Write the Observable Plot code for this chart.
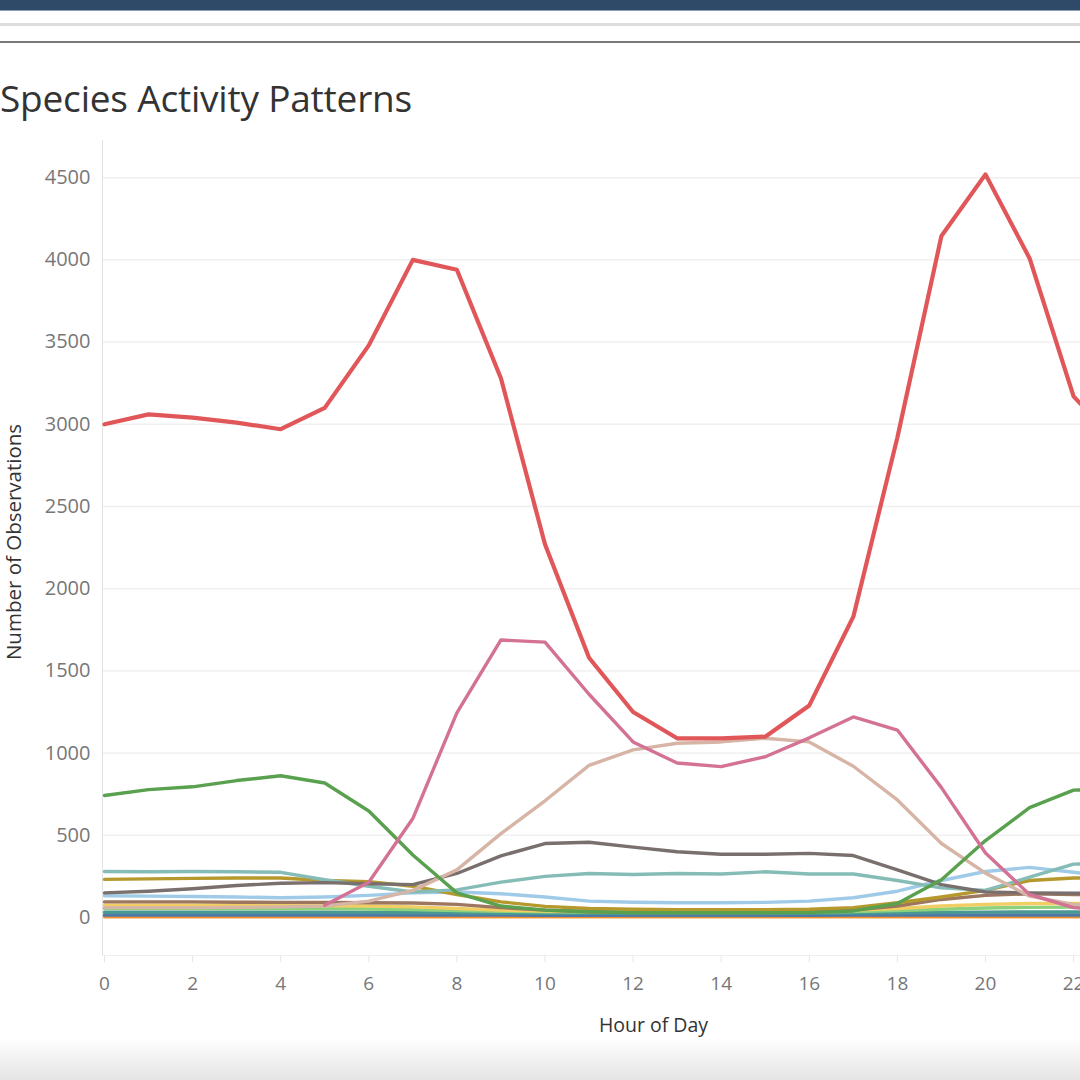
<!DOCTYPE html>
<html>
<head>
<meta charset="utf-8">
<script src="https://cdn.jsdelivr.net/npm/d3@7"></script>
<script src="https://cdn.jsdelivr.net/npm/@observablehq/plot@0.6"></script>
<style>
  html, body { margin: 0; padding: 0; background: #fff; overflow: hidden; }
  #page { position: relative; width: 1080px; height: 1080px; overflow: hidden; background: #fff; }
  .abs { position: absolute; left: 0; }
  #title { position: absolute; left: 0px; top: 79px; font-family: "Open Sans", sans-serif; font-size: 37px; line-height: 37px; color: #333; white-space: nowrap; letter-spacing: -0.2px; }
  #chart { position: absolute; left: 0; top: 130px; }
  #chart svg { max-width: none; }
</style>
</head>
<body>
<div id="page">
  <div class="abs" style="top:0;width:1080px;height:10px;background:#2e4a68"></div>
  <div class="abs" style="top:10px;width:1080px;height:1px;background:#8da0b3"></div>
  <div class="abs" style="top:23px;width:1080px;height:3px;background:#dddddd"></div>
  <div class="abs" style="top:41px;width:1080px;height:2px;background:#7a7a7a"></div>
  <div id="title">Species Activity Patterns</div>
  <div id="chart"></div>
  <div class="abs" style="top:1038px;width:1080px;height:42px;background:linear-gradient(rgba(230,230,230,0), #e4e4e4);pointer-events:none"></div>
</div>
<script>
// Hours of day
const hours = d3.range(0, 24);
const yTicks = [0, 500, 1000, 1500, 2000, 2500, 3000, 3500, 4000, 4500];
const xTicks = [0, 2, 4, 6, 8, 10, 12, 14, 16, 18, 20, 22];

// Series (number of observations per hour); null = no observations recorded
const peachSeries   = [3, 3, 3, 3, 3, 3, 3, 3, 3, 3, 3, 3, 3, 3, 3, 3, 3, 3, 3, 3, 3, 3, 3, 3];
const orangeSeries  = [8, 8, 8, 8, 8, 8, 8, 8, 8, 8, 8, 8, 8, 8, 8, 8, 8, 8, 8, 8, 8, 8, 8, 8];
const blueSeries    = [15, 15, 15, 15, 15, 15, 15, 15, 15, 15, 14, 14, 14, 14, 14, 14, 14, 15, 15, 15, 15, 15, 15, 15];
const steelSeries   = [32, 32, 32, 32, 32, 32, 31, 30, 28, 26, 25, 25, 24, 24, 24, 24, 25, 27, 29, 31, 33, 34, 34, 34];
const lgreenSeries  = [55, 55, 55, 55, 55, 55, 52, 48, 42, 38, 35, 33, 32, 32, 32, 32, 33, 36, 42, 50, 58, 62, 63, 63];
const yellowSeries  = [75, 75, 75, 75, 75, 72, 70, 65, 55, 45, 40, 38, 35, 35, 35, 35, 38, 45, 55, 70, 80, 85, 85, 85];
const brownSeries   = [95, 95, 95, 93, 92, 92, 90, 88, 80, 60, 45, 35, 30, 30, 30, 30, 35, 45, 70, 110, 135, 145, 140, 135];
const lblueSeries   = [132, 130, 128, 125, 120, 125, 135, 150, 155, 145, 125, 100, 93, 90, 90, 92, 100, 120, 160, 225, 280, 305, 275, 245];
const goldSeries    = [232, 235, 238, 240, 240, 225, 218, 190, 140, 95, 68, 55, 50, 48, 48, 48, 50, 60, 90, 125, 165, 225, 240, 245];
const tealSeries    = [280, 278, 280, 278, 275, 230, 190, 155, 168, 215, 250, 268, 262, 268, 265, 278, 265, 265, 225, 180, 165, 245, 325, 330];
const graySeries    = [150, 160, 175, 195, 208, 212, 205, 200, 268, 375, 450, 458, 428, 400, 385, 385, 390, 377, 290, 200, 155, 150, 148, 145];
const tanSeries     = [60, 60, 60, 62, 65, 70, 100, 165, 290, 510, 710, 925, 1020, 1060, 1068, 1090, 1068, 920, 715, 450, 270, 130, 80, 70];
const greenSeries   = [742, 778, 795, 833, 862, 818, 648, 380, 150, 70, 45, 35, 30, 30, 30, 30, 30, 40, 85, 230, 468, 668, 775, 780];
const pinkSeries    = [null, null, null, null, null, 75, 215, 602, 1245, 1688, 1675, 1358, 1068, 940, 918, 978, 1093, 1220, 1140, 790, 392, 140, 60, 40];
const redSeries     = [3000, 3060, 3040, 3010, 2970, 3100, 3480, 4000, 3940, 3280, 2270, 1580, 1250, 1090, 1090, 1100, 1290, 1830, 2920, 4145, 4520, 4010, 3170, 2880];

const seriesNames  = ["Species P", "Species O", "Species N", "Species M", "Species L", "Species K", "Species J", "Species I", "Species H", "Species G", "Species F", "Species E", "Species D", "Species C", "Species B"];
const seriesValues = [peachSeries, orangeSeries, blueSeries, steelSeries, lgreenSeries, yellowSeries, brownSeries, lblueSeries, goldSeries, tealSeries, graySeries, tanSeries, greenSeries, pinkSeries, redSeries];
const seriesColors = ["#FFBE7D", "#F28E2B", "#4E79A7", "#499894", "#8CD17D", "#F1CE63", "#9D7660", "#A0CBE8", "#B6992D", "#86BCB6", "#79706E", "#D7B5A6", "#59A14F", "#D37295", "#E15759"];

const data = [];
seriesNames.forEach((name, i) => {
  hours.forEach((h, j) => {
    const v = seriesValues[i][j];
    if (v !== null && v !== undefined) data.push({name, hour: h, value: v});
  });
});

const chart = Plot.plot({
  width: 1080,
  height: 950,
  marginLeft: 102,
  marginRight: 0,
  marginTop: 10,
  marginBottom: 125,
  x: {domain: [-0.045, 22.157], label: null},
  y: {domain: [-231, 4726], label: null},
  color: {domain: seriesNames, range: seriesColors},
  style: {fontFamily: "'Open Sans', sans-serif", background: "white", overflow: "hidden"},
  marks: [
    Plot.gridY(yTicks, {stroke: "#f0f0f0", strokeOpacity: 1, strokeWidth: 1.5}),
    Plot.frame({anchor: "left", stroke: "#e2e2e2"}),
    Plot.frame({anchor: "bottom", stroke: "#efefef"}),
    Plot.axisY(yTicks, {tickSize: 0, tickPadding: 12, fontSize: 20, fill: "#777", tickFormat: d => String(d), label: null}),
    Plot.axisX(xTicks, {tickSize: 7, tickPadding: 14, fontSize: 19, fill: "#777", stroke: "#e6e6e6", tickFormat: d => String(d), label: null}),
    Plot.text(["Number of Observations"], {frameAnchor: "left", textAnchor: "middle", rotate: -90, dx: -88, dy: -6, fontSize: 20.5, fill: "#333"}),
    Plot.text(["Hour of Day"], {frameAnchor: "bottom", dx: 62, dy: 76, fontSize: 19.5, fill: "#333"}),
    Plot.line(data, {
      x: "hour", y: "value", z: "name", stroke: "name",
      strokeWidth: d => (d.name === "Species B" ? 4.2 : 3.4),
      clip: true, strokeLinejoin: "round", strokeLinecap: "round"
    })
  ]
});
document.getElementById("chart").appendChild(chart);
</script>
</body>
</html>
